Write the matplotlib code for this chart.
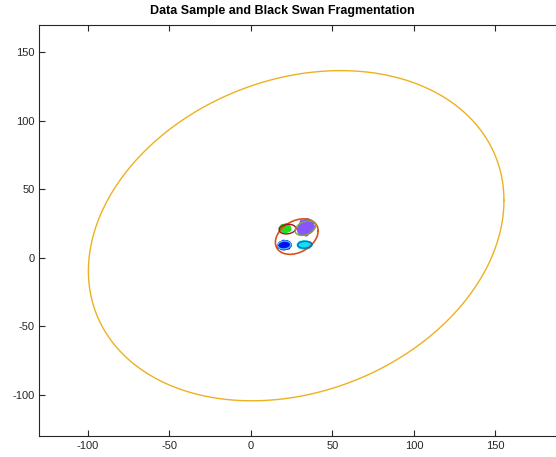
import numpy as np
import matplotlib.pyplot as plt

plt.rcParams['font.family'] = ['Liberation Sans', 'DejaVu Sans']
plt.rcParams['axes.unicode_minus'] = False

# sample clusters
green_x = [18.6, 19.5, 20.3, 21.0, 21.8, 22.6, 23.2, 19.8, 21.2, 22.4, 20.6, 21.7, 19.2, 22.9]
green_y = [21.5, 22.8, 20.2, 23.1, 21.6, 22.5, 21.0, 20.6, 20.0, 20.4, 21.9, 23.3, 22.0, 22.0]

purple_x = [29.6, 30.5, 31.2, 32.0, 32.8, 33.6, 34.4, 35.2, 36.0, 36.8, 37.6, 30.8, 31.9,
            33.1, 34.3, 35.5, 36.6, 31.5, 33.0, 34.6, 36.1, 32.4, 35.0, 37.2, 30.2, 33.8]
purple_y = [21.0, 23.5, 19.5, 25.2, 21.8, 26.4, 23.2, 25.8, 22.4, 24.6, 22.8, 18.4, 22.6,
            19.8, 20.6, 19.2, 20.4, 26.0, 23.8, 27.0, 26.2, 18.0, 22.0, 25.0, 19.0, 17.6]

blue_x = [17.4, 18.3, 19.1, 20.0, 20.8, 21.7, 22.6, 23.5, 18.8, 20.4, 22.0, 19.5, 21.3, 23.0]
blue_y = [8.6, 10.2, 7.6, 11.3, 9.0, 10.8, 8.0, 9.4, 9.0, 7.4, 11.0, 10.0, 7.8, 10.3]

cyan_x = [29.7, 30.6, 31.5, 32.4, 33.3, 34.2, 35.1, 36.2, 31.0, 32.9, 34.7, 30.2, 35.8]
cyan_y = [9.4, 10.6, 8.2, 11.0, 9.0, 10.8, 8.4, 9.6, 9.6, 8.0, 9.8, 8.6, 10.4]

# confidence ellipses: centre x, centre y, sigma x, sigma y, correlation
ell_black_swan = (27.75, 16.2, 127.45, 120.5, 0.214)
ell_sample = (28.1, 15.55, 13.1, 12.95, 0.32)
ell_green = (22.4, 21.0, 5.1, 3.5, 0.15)
ell_purple = (33.4, 21.7, 6.3, 5.3, 0.35)
ell_blue = (20.4, 9.4, 4.0, 2.9, 0.1)
ell_cyan = (33.0, 9.6, 4.3, 2.5, 0.05)


def ellipse_xy(cx, cy, sx, sy, rho, n=400):
    t = np.linspace(0, 2 * np.pi, n)
    x = cx + sx * np.cos(t)
    y = cy + sy * (rho * np.cos(t) + np.sqrt(1 - rho ** 2) * np.sin(t))
    return x, y


fig = plt.figure(figsize=(5.56, 4.57), dpi=100)
ax = fig.add_axes([39 / 556, 21 / 457, 538 / 556, 411 / 457])

ms = 16
ax.scatter(green_x, green_y, s=ms, c='#22e01a', edgecolors='none')
ax.scatter(purple_x, purple_y, s=ms, c='#8a55ff', edgecolors='none')
ax.scatter(blue_x, blue_y, s=ms, c='#0010f0', edgecolors='none')
ax.scatter(cyan_x, cyan_y, s=ms, c='#10e0f0', edgecolors='none')

for params, col, lw in [(ell_black_swan, '#EDB120', 1.0),
                        (ell_sample, '#D95319', 1.2),
                        (ell_green, '#A2142F', 1.0),
                        (ell_purple, '#77AC30', 1.0),
                        (ell_blue, '#4DBEEE', 1.0),
                        (ell_cyan, '#0072BD', 1.0)]:
    x, y = ellipse_xy(*params)
    ax.plot(x, y, color=col, lw=lw)

ax.set_xlim(-130, 200)
ax.set_ylim(-130, 170)
ax.set_xticks([-100, -50, 0, 50, 100, 150])
ax.set_yticks([-100, -50, 0, 50, 100, 150])

for s in ax.spines.values():
    s.set_color('#262626')
    s.set_linewidth(0.8)
ax.tick_params(direction='in', length=4, width=0.8, color='#262626',
               labelcolor='#262626', labelsize=8, top=True, right=True)
ax.tick_params(axis='x', pad=3.5)
ax.tick_params(axis='y', pad=3)

fig.text(282 / 556, 1 - 11 / 457, 'Data Sample and Black Swan Fragmentation',
         ha='center', va='center', fontsize=9, fontweight='bold', color='black')

fig.savefig('out.png', dpi=100)
